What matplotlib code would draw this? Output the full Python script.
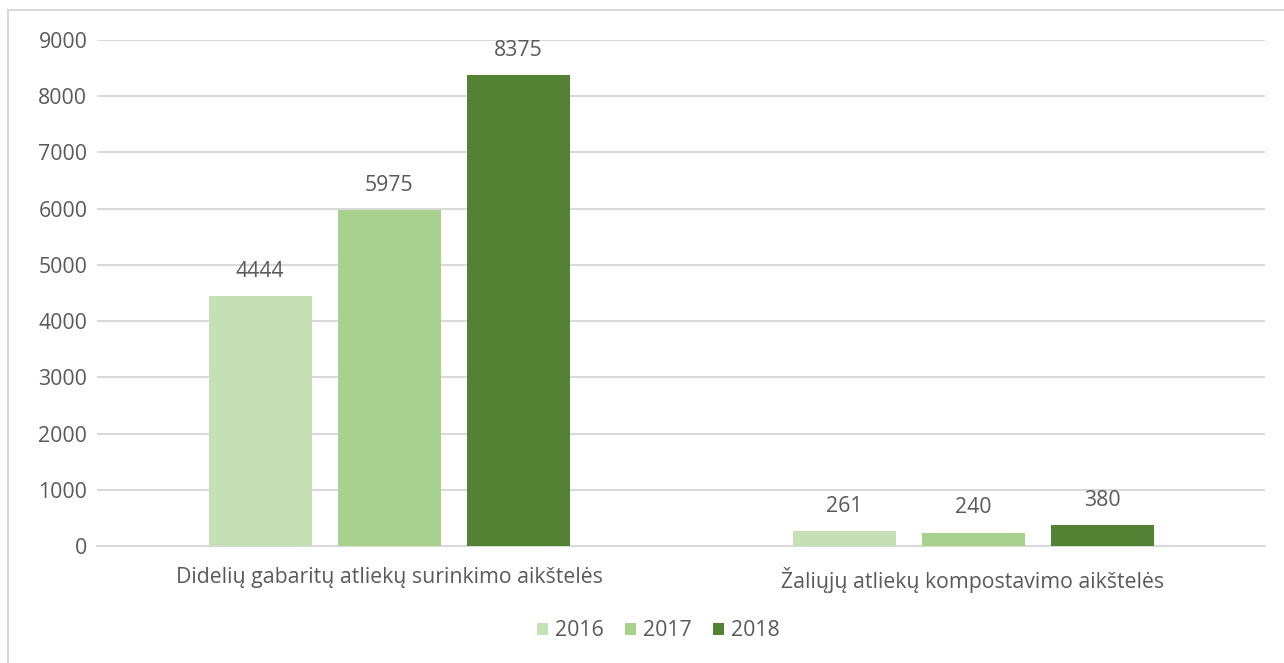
import matplotlib.pyplot as plt
import numpy as np
from matplotlib.patches import Rectangle

categories = ["Didelių gabaritų atliekų surinkimo aikštelės",
              "Žaliųjų atliekų kompostavimo aikštelės"]
years = ["2016", "2017", "2018"]
values = {
    "2016": [4444, 261],
    "2017": [5975, 240],
    "2018": [8375, 380],
}
colors = {"2016": "#C5E0B4", "2017": "#A9D18E", "2018": "#548235"}

plt.rcParams['font.family'] = ['Open Sans', 'DejaVu Sans']
txt = "#595959"
fs = 15.3

fig = plt.figure(figsize=(12.84, 6.63), dpi=100)
ax = fig.add_axes([97 / 1284, 1 - 546 / 663, 1168 / 1284, 506 / 663])

# chart frame
fig.patches.append(Rectangle((8 / 1284, -0.1), 1.2, 1 - 10 / 663 + 0.1,
                             transform=fig.transFigure, fill=False,
                             edgecolor="#D9D9D9", linewidth=1.5))

x = np.arange(len(categories))
w = 103 / 584
step = 129 / 584
for i, yr in enumerate(years):
    pos = x + (i - 1) * step
    bars = ax.bar(pos, values[yr], width=w, color=colors[yr], label=yr, zorder=3)
    for b, v in zip(bars, values[yr]):
        ax.text(b.get_x() + b.get_width() / 2, v + 250, str(v),
                ha="center", va="bottom", fontsize=fs, color=txt)

ax.set_xlim(-0.5, 1.5)
ax.set_ylim(0, 9000)
ax.set_yticks(range(0, 9001, 1000))
ax.grid(axis="y", color="#D9D9D9", linewidth=1.5, zorder=0)
for s in ["top", "right", "left"]:
    ax.spines[s].set_visible(False)
ax.spines["bottom"].set_color("#D9D9D9")
ax.spines["bottom"].set_linewidth(1.5)
ax.set_xticks(x)
ax.set_xticklabels(categories)
ax.tick_params(axis="both", length=0, labelsize=fs, labelcolor=txt)
ax.tick_params(axis="x", pad=15)
ax.tick_params(axis="y", pad=7)

leg = fig.legend(loc="center", bbox_to_anchor=(0.5 + 16 / 1284, 1 - 631 / 663), ncol=3,
                 frameon=False, fontsize=fs, handlelength=0.55, handleheight=0.55,
                 handletextpad=0.3, columnspacing=1.0)
for t in leg.get_texts():
    t.set_color(txt)

fig.savefig("out.png", dpi=100)
